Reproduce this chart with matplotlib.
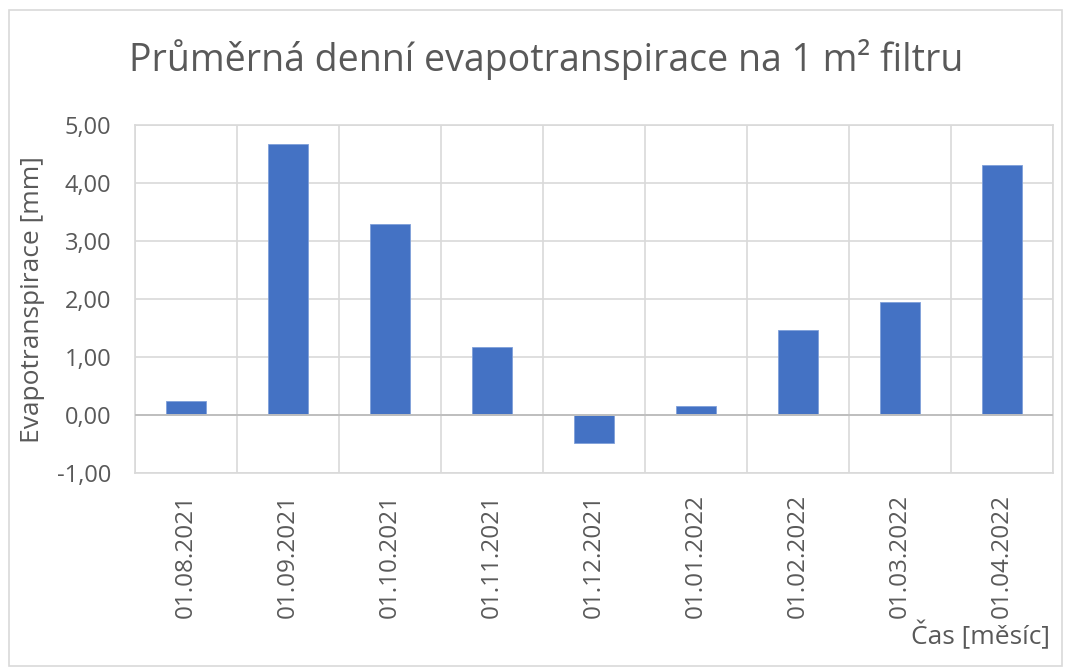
import matplotlib
matplotlib.use("Agg")
import matplotlib.pyplot as plt
from matplotlib.patches import Rectangle

categories = ["01.08.2021", "01.09.2021", "01.10.2021", "01.11.2021", "01.12.2021",
              "01.01.2022", "01.02.2022", "01.03.2022", "01.04.2022"]
values = [0.25, 4.68, 3.29, 1.18, -0.48, 0.16, 1.46, 1.94, 4.31]
yticks = [-1, 0, 1, 2, 3, 4, 5]
ytick_labels = ["-1,00", "0,00", "1,00", "2,00", "3,00", "4,00", "5,00"]

title = "Průměrná denní evapotranspirace na 1 m² filtru"
ylabel = "Evapotranspirace [mm]"
xlabel = "Čas [měsíc]"

plt.rcParams['font.family'] = ['Open Sans', 'DejaVu Sans']
txt = "#595959"
grid = "#d9d9d9"

fig = plt.figure(figsize=(10.71, 6.68), dpi=100)
ax = fig.add_axes([135/1071, 1 - 473/668, (1053-135)/1071, (473-125)/668])

x = list(range(len(categories)))
ax.bar(x, values, width=0.4, color="#4472C4", edgecolor="#7f9fd9", linewidth=0.6, zorder=3)

ax.set_xlim(-0.5, len(categories) - 0.5)
ax.set_ylim(-1, 5)
ax.set_yticks(yticks)
ax.set_yticklabels(ytick_labels, color=txt, fontsize=17)
ax.set_xticks(x)
ax.set_xticklabels(categories, rotation=90, color=txt, fontsize=17.5, va="top")
ax.tick_params(axis="both", length=0)
ax.tick_params(axis="x", pad=15)
ax.tick_params(axis="y", pad=17)

for yv in yticks:
    ax.axhline(yv, color=grid, linewidth=1.2, zorder=1)
for xv in [i + 0.5 for i in range(-1, len(categories))]:
    ax.axvline(xv, color=grid, linewidth=1.2, zorder=1)
ax.axhline(0, color="#bfbfbf", linewidth=1.4, zorder=4)
for s in ax.spines.values():
    s.set_color(grid)
    s.set_linewidth(1.2)

fig.text(546/1071, 1 - 60/668, title, ha="center", va="center", fontsize=27, color=txt)
fig.text(33/1071, 1 - 300/668, ylabel, ha="center", va="center", rotation=90, fontsize=19, color=txt)
fig.text(1050/1071, 1 - 636/668, xlabel, ha="right", va="center", fontsize=19, color=txt)

fig.patches.append(Rectangle((9/1071, 2/668), (1062-9)/1071, (658-2)/668,
                             transform=fig.transFigure, fill=False,
                             edgecolor=grid, linewidth=1.2))

fig.savefig("out.png", dpi=100)
